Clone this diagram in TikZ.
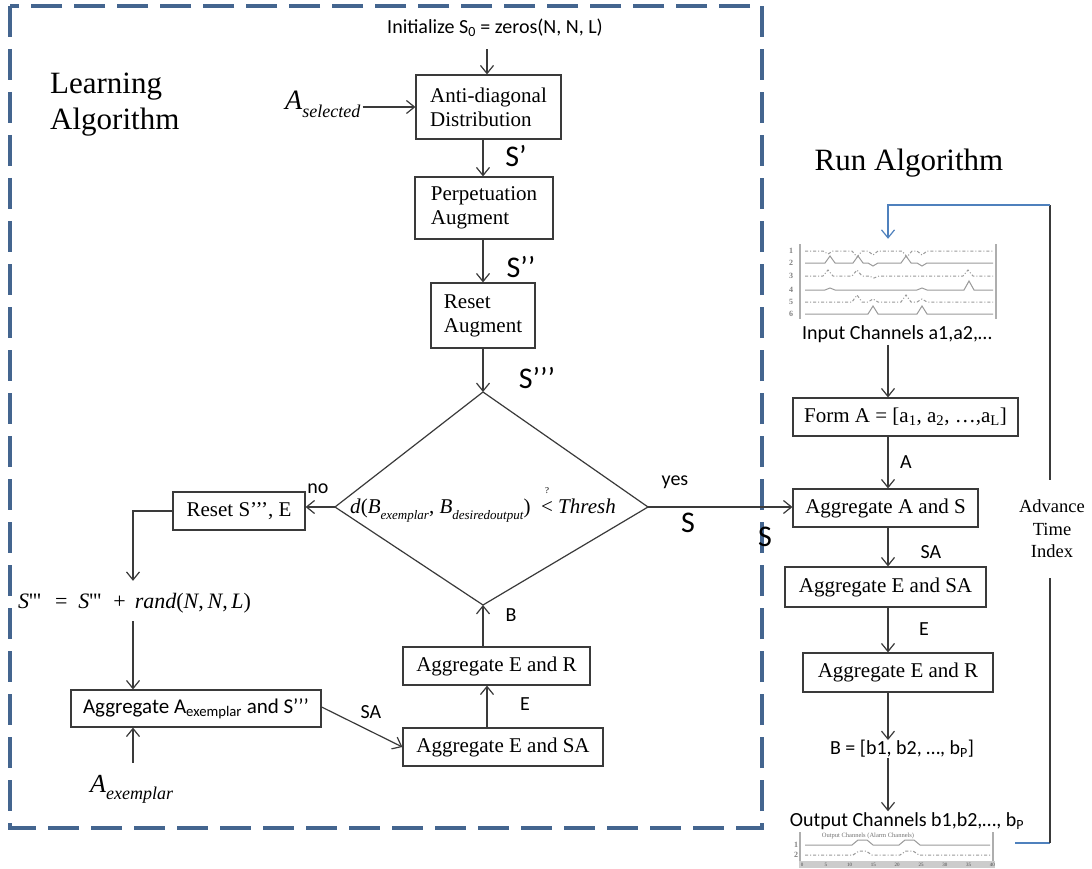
\documentclass[tikz,border=0pt]{standalone}
\usepackage{fontspec}
\setmainfont{Liberation Serif}
\newfontfamily\calib{Carlito}
\usetikzlibrary{arrows.meta}

\definecolor{ink}{HTML}{3A3A3A}
\definecolor{framec}{HTML}{44658F}
\definecolor{fbblue}{HTML}{4F81BD}
\definecolor{plotg}{HTML}{9A9A9A}

% small lowered/raised text helpers
\newcommand{\lowtxt}[2]{\raisebox{-0.28em}{\fontsize{#1}{#1}\selectfont #2}}
\newcommand{\sq}{\textquotesingle}

\begin{document}
\begin{tikzpicture}[x=1pt,y=-1pt,
  box/.style={draw=ink, line width=1.2pt, inner sep=0pt, fill=white,
    font=\fontsize{21}{24}\selectfont},
  cbox/.style={box, font=\calib\fontsize{21}{24}\selectfont},
  lbl/.style={font=\calib\fontsize{20}{24}\selectfont, inner sep=2pt},
  biglbl/.style={font=\calib\fontsize{30}{34}\selectfont, inner sep=0pt},
  title/.style={font=\fontsize{31}{36}\selectfont, align=left, inner sep=0pt},
  arr/.style={draw=ink, line width=1.2pt, -{Straight Barb[length=8pt,width=13pt]}},
  wire/.style={draw=ink, line width=1.2pt},
  fb/.style={draw=fbblue, line width=1.2pt},
  plotln/.style={draw=plotg, line width=1pt},
  dd/.style={plotln, dash pattern=on 3pt off 2pt on 1pt off 2pt},
  axis/.style={draw=plotg!80, line width=1.6pt},
  chno/.style={text=gray, font=\bfseries\fontsize{8}{8}\selectfont, inner sep=0pt},
]
\useasboundingbox[fill=white] (0,0) rectangle (1092,869);

% ---------- learning algorithm frame ----------
\draw[draw=framec, line width=3.6pt, dash pattern=on 31pt off 12pt]
  (10,6) rectangle (762,828);
\node[title, anchor=west] (learn) at (50,105) {Learning\\Algorithm};
\node[title] (run) at (909,163) {Run Algorithm};

% column reference coordinates
\coordinate (colA) at (487,0);
\coordinate (colL) at (483,0);
\coordinate (colX) at (133,0);
\coordinate (colR) at (888,0);

% ---------- learning column ----------
\node[lbl] (init) at (495,28) {Initialize S\textsubscript{0} = zeros(N, N, L)};
\node[box, minimum width=145pt, minimum height=64pt, align=left] (anti) at (488.5,107)
  {Anti-diagonal\\Distribution};
\node[inner sep=2pt, anchor=west] (asel) at (283,104)
  {\fontsize{28}{30}\selectfont\textit{A}\lowtxt{18}{\textit{selected}}};
\node[box, minimum width=138pt, minimum height=62pt, align=left] (perp) at (484,208)
  {Perpetuation\\Augment};
\node[box, minimum width=104pt, minimum height=65pt, align=left] (raug) at (483,315.5)
  {Reset\\Augment};

\node[biglbl] (s1) at (516,156) {S’};
\node[biglbl] (s2) at (521,267) {S’’};
\node[biglbl] (s3) at (537,378) {S’’’};

% decision diamond
\coordinate (dT) at (483,392);
\coordinate (dR) at (648,507);
\coordinate (dB) at (483,605);
\coordinate (dL) at (335,507);
\draw[draw=ink, line width=1.2pt] (dT) -- (dR) -- (dB) -- (dL) -- cycle;
\node[inner sep=0pt, font=\fontsize{21}{24}\selectfont] (cond) at (483,505)
  {\textit{d}(\textit{B}\lowtxt{13}{\textit{exemplar}}, \textit{B}\lowtxt{13}{\textit{desiredoutput}})\ \
   \makebox[0pt][l]{\raisebox{0.95em}{\hspace{4pt}\fontsize{9}{9}\selectfont ?}}<\ \textit{Thresh}};

\node[lbl] (yes) at (675,482) {yes};
\node[lbl] (no) at (318,489) {no};
\node[biglbl] (sL) at (688,523) {S};
\node[biglbl] (sR) at (765,537) {S};

\node[box, minimum width=132pt, minimum height=38pt] (rst) at (239,511) {Reset S’’’, E};
\node[inner sep=0pt, anchor=west, font=\fontsize{22}{24}\selectfont] (rnd) at (18,603)
  {\textit{S}\sq\sq\sq\hspace{14pt}=\hspace{11pt}\textit{S}\sq\sq\sq\hspace{12pt}+\hspace{9pt}\textit{rand}(\textit{N},\,\textit{N},\,\textit{L})};
\node[cbox, minimum width=250pt, minimum height=37pt] (aggAx) at (196,708.5)
  {Aggregate A\textsubscript{exemplar} and S’’’};
\node[inner sep=2pt, anchor=west] (aex) at (88,789)
  {\fontsize{26}{28}\selectfont\textit{A}\lowtxt{18}{\textit{exemplar}}};

\node[box, minimum width=200pt, minimum height=38pt] (aggESAl) at (503,747) {Aggregate E and SA};
\node[box, minimum width=187pt, minimum height=38pt] (aggERl) at (496.5,666) {Aggregate E and R};
\node[lbl] (saL) at (371,712) {SA};
\node[lbl] (eL) at (525,704) {E};
\node[lbl] (bL) at (511,615) {B};

% ---------- run column ----------
\node[inner sep=0pt, minimum width=212pt, minimum height=78pt] (inplot) at (892,281) {};
\node[lbl] (inlbl) at (897,334) {Input Channels a1,a2,…};
\node[box, minimum width=225pt, minimum height=38pt] (formA) at (905.5,417)
  {Form A = [a\textsubscript{1}, a\textsubscript{2}, …,a\textsubscript{L}]};
\node[box, minimum width=185pt, minimum height=38pt] (aggAS) at (885.5,508) {Aggregate A and S};
\node[box, minimum width=201pt, minimum height=40pt] (aggESAr) at (885.5,587) {Aggregate E and SA};
\node[box, minimum width=190pt, minimum height=39pt] (aggERr) at (898,672.5) {Aggregate E and R};
\node[lbl] (bvec) at (902,749) {B = [b1, b2, …, b\textsubscript{P}]};
\node[lbl] (outlbl) at (907,821) {Output Channels b1,b2,…, b\textsubscript{P}};
\node[inner sep=0pt, minimum width=196pt, minimum height=37pt] (outplot) at (897,850) {};

\node[lbl] (aR) at (906,462) {A};
\node[lbl] (saR) at (931,552) {SA};
\node[lbl] (eR) at (924,629) {E};

\node[inner sep=0pt, minimum height=98pt, align=center,
  font=\fontsize{18.5}{22.5}\selectfont] (adv) at (1052,529) {Advance\\Time\\Index};

% learning connectors
\draw[arr] ([yshift=-10pt]init.south -| colA) -- (anti.north -| colA);
\draw[arr] (asel.east |- anti.west) -- (anti.west);
\draw[arr] (anti.south -| colL) -- (perp.north -| colL);
\draw[arr] (perp.south -| colL) -- (raug.north -| colL);
\draw[arr] (raug.south -| colL) -- (dT);
\draw[arr] (dL) -- (dL -| rst.east);
\draw[arr] (rst.west) -| ([yshift=12pt]rnd.north -| colX);
\draw[arr] ([yshift=-8pt]rnd.south -| colX) -- (aggAx.north -| colX);
\draw[arr] ([yshift=10pt]aex.north -| colX) -- (aggAx.south -| colX);
\draw[arr] ([yshift=1.5pt]aggAx.east) -- (aggESAl.west);
\draw[arr] (aggESAl.north -| colA) -- (aggERl.south -| colA);
\draw[arr] (aggERl.north -| colL) -- (dB);
\draw[arr] (dR) -- (dR -| aggAS.west);

% run connectors
\draw[arr] (inlbl.south -| colR) -- (formA.north -| colR);
\draw[arr] (formA.south -| colR) -- (aggAS.north -| colR);
\draw[arr] (aggAS.south -| colR) -- (aggESAr.north -| colR);
\draw[arr] (aggESAr.south -| colR) -- (aggERr.north -| colR);
\draw[arr] (aggERr.south -| colR) -- ([yshift=-2pt]bvec.north -| colR);
\draw[arr] ([yshift=2pt]bvec.south -| colR) -- ([yshift=-1pt]outlbl.north -| colR);

% time-advance feedback loop
\coordinate (fbStart) at (1015,843);
\coordinate (fbBot) at (1050,843);
\coordinate (fbTop) at (1050,205);
\draw[fb] (fbStart) -- (fbBot);
\draw[wire] (fbBot) -- (adv.south -| fbBot);
\draw[wire] (adv.north -| fbTop) -- (fbTop);
\draw[fb, -{Straight Barb[length=8pt,width=13pt]}] (fbTop) -| ([yshift=3pt]inplot.north -| colR);

% ---------- input channel traces ----------
\draw[axis] (800,244) -- (800,319);
\draw[axis] (996,244) -- (996,319);
\foreach \n/\yy in {1/251,2/263,3/276,4/290,5/302,6/314}
  \node[chno] (ch\n) at (791,\yy) {\n};
\draw[dd] (805,251) \foreach \b/\h in {828/3,857/6,873/4,907/6,922/4}
  { -- (\b-5,251) -- (\b,251+\h) -- (\b+5,251) } -- (993,251);
\draw[plotln] (805,263) \foreach \b/\h in {830/-7,858/-7,873/3,906/-7,922/3}
  { -- (\b-5,263) -- (\b,263+\h) -- (\b+5,263) } -- (993,263);
\draw[dd] (805,276) \foreach \b/\h in {828/-6,857/-6,874/2,968/-6}
  { -- (\b-5,276) -- (\b,276+\h) -- (\b+5,276) } -- (993,276);
\draw[plotln] (805,290) \foreach \b/\h in {830/-2,922/-2,969/-9}
  { -- (\b-5,290) -- (\b,290+\h) -- (\b+5,290) } -- (993,290);
\draw[dd] (805,302) \foreach \b/\h in {857/-7,873/-3,906/-7,922/-3}
  { -- (\b-5,302) -- (\b,302+\h) -- (\b+5,302) } -- (993,302);
\draw[plotln] (805,314) \foreach \b/\h in {873/-8,922/-8}
  { -- (\b-5,314) -- (\b,314+\h) -- (\b+5,314) } -- (993,314);

% ---------- output channel traces ----------
\draw[axis] (800,832) -- (800,862);
\draw[axis] (993,832) -- (993,862);
\node[inner sep=0pt, text=gray!90!black, font=\fontsize{6.5}{7}\selectfont] (otitle) at (868,836)
  {Output Channels (Alarm Channels)};
\node[chno] (och1) at (796,845) {1};
\node[chno] (och2) at (796,855) {2};
\draw[plotln] (805,845) -- (852,845) -- (858,840) -- (867,840) -- (873,845)
  -- (899,845) -- (905,840) -- (914,840) -- (920,845) -- (990,845);
\draw[dd] (805,855) -- (853,855) -- (859,851) -- (866,851) -- (872,855)
  -- (900,855) -- (906,851) -- (913,851) -- (919,855) -- (990,855);
\fill[gray!40] (799,861) rectangle (995,868);
\foreach \k in {0,...,8}{
  \pgfmathtruncatemacro{\lab}{5*\k}
  \node[inner sep=0pt, text=gray!60!black, font=\fontsize{5}{5}\selectfont] (tk\k)
    at (802+23.8*\k,864.5) {\lab};
}
\end{tikzpicture}
\end{document}
